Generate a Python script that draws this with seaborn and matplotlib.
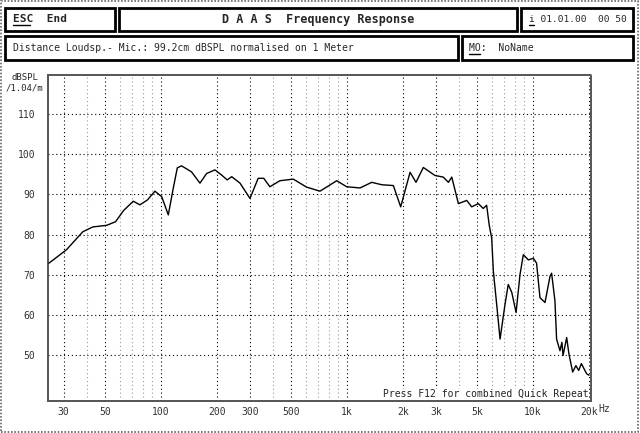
import matplotlib
matplotlib.use('Agg')
import matplotlib.pyplot as plt
from matplotlib.patches import Rectangle
from matplotlib.ticker import NullLocator
import seaborn as sns
import pandas as pd

freq_hz = [25, 31, 38, 43, 51, 57, 63, 71, 77, 84.5, 92.8, 101, 109.5, 116.4, 122.4,
           129, 146, 162, 176, 195, 212, 227, 240, 266, 301, 333, 357, 385, 436,
           514, 607, 716, 881, 996, 1175, 1358, 1537, 1775, 1944, 2183, 2350, 2572,
           2971, 3295, 3508, 3659, 3970, 4404, 4680, 5082, 5400, 5633, 5818, 5997,
           6120, 6380, 6650, 7070, 7360, 7690, 8110, 8510, 8870, 9440, 10040, 10450,
           10900, 11600, 12340, 12590, 13120, 13390, 13960, 14300, 14500, 15170,
           15600, 16340, 17000, 17600, 18200, 19400, 20000]
spl_db = [72.9, 76.2, 80.7, 81.9, 82.3, 83.2, 86.0, 88.3, 87.4, 88.6, 90.8, 89.4,
          84.9, 91.5, 96.6, 97.1, 95.6, 92.8, 95.2, 96.1, 94.8, 93.6, 94.4, 92.8,
          89.0, 94.0, 94.0, 91.9, 93.4, 93.8, 91.8, 90.8, 93.4, 91.9, 91.6, 93.0,
          92.4, 92.2, 86.9, 95.5, 93.0, 96.7, 94.7, 94.3, 93.0, 94.3, 87.7, 88.5,
          86.9, 87.7, 86.5, 87.3, 82.3, 79.1, 70.9, 62.6, 54.0, 62.6, 67.6, 65.6,
          60.6, 70.0, 75.0, 73.7, 74.1, 72.9, 64.3, 63.1, 69.6, 70.4, 63.5, 54.0,
          51.1, 53.2, 49.9, 54.4, 50.3, 45.8, 47.4, 46.2, 47.9, 45.4, 45.0]

x_tick_vals = [30, 50, 100, 200, 300, 500, 1000, 2000, 3000, 5000, 10000, 20000]
x_tick_labels = ['30', '50', '100', '200', '300', '500', '1k', '2k', '3k', '5k', '10k', '20k']
y_tick_vals = [50, 60, 70, 80, 90, 100, 110]

W, H = 640, 433
MONO = 'DejaVu Sans Mono'

sns.set_style('white')
plt.rcParams['font.family'] = [MONO]


def box(x0, y0, x1, y1):
    # pixel box (top-left origin) -> figure fraction rect
    return [x0 / W, 1 - y1 / H, (x1 - x0) / W, (y1 - y0) / H]


def fx(x):
    return x / W


def fy(y):
    return 1 - y / H


fig = plt.figure(figsize=(6.4, 4.33), dpi=100)
fig.patch.set_facecolor('white')

# outer frame
fig.add_artist(Rectangle((0.002, 0.003), 0.995, 0.994, transform=fig.transFigure,
                         fill=False, ec='#666666', lw=1.2, ls=(0, (1, 1))))

# header boxes
for x0, y0, x1, y1 in [(5, 8, 115, 31), (119, 8, 517, 31), (521, 8, 633, 31),
                       (5, 36, 458, 60), (462, 36, 633, 60)]:
    r = box(x0, y0, x1, y1)
    fig.add_artist(Rectangle((r[0], r[1]), r[2], r[3], transform=fig.transFigure,
                             fill=False, ec='black', lw=2))

fig.text(fx(13), fy(19.5), 'ESC  End', fontsize=8, va='center', fontweight='bold')
fig.add_artist(plt.Line2D([fx(13), fx(30)], [fy(25), fy(25)], transform=fig.transFigure,
                          color='black', lw=1))
fig.text(fx(318), fy(19.5), 'D A A S  Frequency Response', fontsize=8.5, va='center',
         ha='center', fontweight='bold')
fig.text(fx(529), fy(19.5), 'i 01.01.00  00 50', fontsize=6.8, va='center')
fig.add_artist(plt.Line2D([fx(529), fx(534)], [fy(25), fy(25)], transform=fig.transFigure,
                          color='black', lw=1))
fig.text(fx(13), fy(48), 'Distance Loudsp.- Mic.: 99.2cm dBSPL normalised on 1 Meter',
         fontsize=7, va='center')
fig.text(fx(469), fy(48), 'MO:  NoName', fontsize=7, va='center')
fig.add_artist(plt.Line2D([fx(469), fx(480)], [fy(54), fy(54)], transform=fig.transFigure,
                          color='black', lw=1))

# y axis unit label
fig.text(fx(12), fy(78), 'dBSPL', fontsize=6.5, va='center')
fig.text(fx(6), fy(88), '/1.04/m', fontsize=6.5, va='center')

# plot area
ax = fig.add_axes(box(48, 75, 591, 401))
df = pd.DataFrame({'freq': freq_hz, 'spl': spl_db})
sns.lineplot(data=df, x='freq', y='spl', ax=ax, color='black', linewidth=1.0, zorder=3)
ax.set_xscale('log')
ax.set_xlim(24.7, 20500)
ax.set_ylim(38.6, 119.7)

minor = [m * 10 ** d for d in range(1, 5) for m in range(1, 10)]
for f in minor:
    if 24.7 < f < 20500:
        strong = f in x_tick_vals
        ax.axvline(f, color='black' if strong else '#9a9a9a', lw=0.8,
                   ls=(0, (1, 2.5)), zorder=1)
for v in y_tick_vals:
    ax.axhline(v, color='black', lw=0.8, ls=(0, (1, 2.5)), zorder=1)

ax.xaxis.set_minor_locator(NullLocator())
ax.set_xticks(x_tick_vals)
ax.set_xticklabels(x_tick_labels)
ax.set_yticks(y_tick_vals)
ax.tick_params(axis='both', length=0, labelsize=7, colors='#333333')
ax.tick_params(axis='x', pad=4)
ax.tick_params(axis='y', pad=9)
ax.set_xlabel('')
ax.set_ylabel('')
for s in ax.spines.values():
    s.set_visible(True)
    s.set_color('#555555')
    s.set_linewidth(1.4)
    s.set_linestyle((0, (1, 1)))

fig.text(fx(598), fy(409.5), 'Hz', fontsize=7, va='center', color='#333333')
ax.text(0.995, 0.005, 'Press F12 for combined Quick Repeat', transform=ax.transAxes,
        fontsize=7, ha='right', va='bottom', color='#222222',
        bbox=dict(fc='white', ec='none', pad=0.5), zorder=4)

fig.savefig('out.png', dpi=100, facecolor='white')
